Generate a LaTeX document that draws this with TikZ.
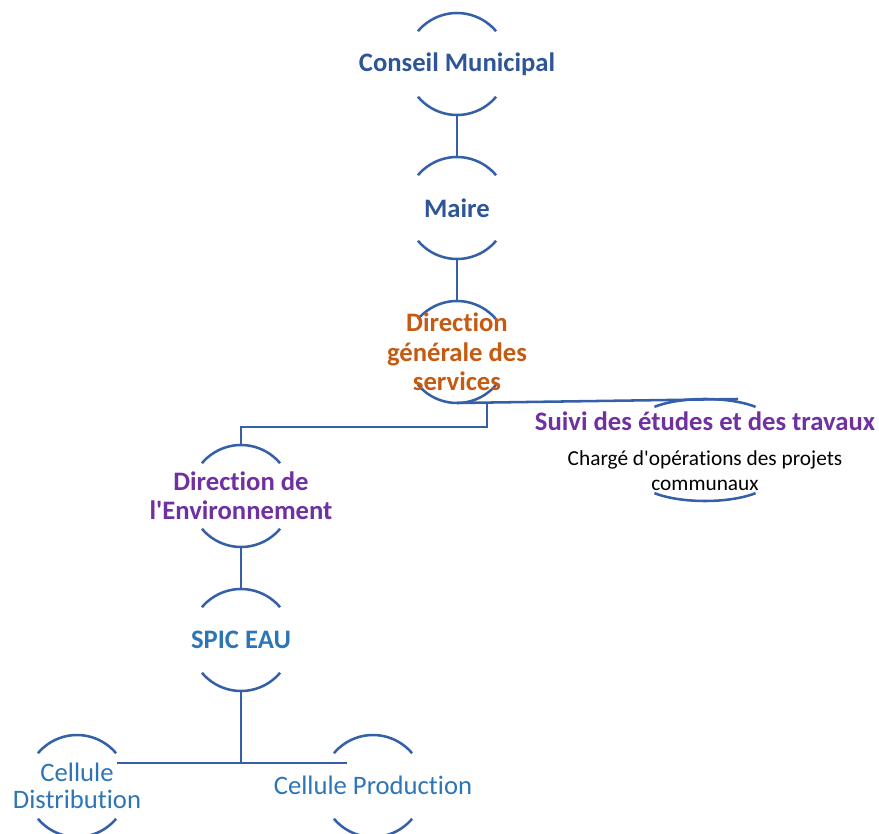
\documentclass[tikz,border=0pt]{standalone}
\usepackage{fontspec}
\setmainfont{Carlito}[Ligatures={NoCommon}]
\usetikzlibrary{calc}

\definecolor{lineblue}{RGB}{53,96,168}
\definecolor{darkblue}{RGB}{47,85,151}
\definecolor{orgorange}{RGB}{197,90,17}
\definecolor{orgpurple}{RGB}{112,48,160}
\definecolor{lightblue}{RGB}{46,117,182}

\tikzset{
  orgline/.style={draw=lineblue, line width=1.9pt},
  bigbold/.style={inner sep=0.75pt, align=center, font=\bfseries\fontsize{20}{22}\selectfont},
  bigplain/.style={inner sep=0.75pt, align=center, font=\fontsize{20}{20}\selectfont},
  smallplain/.style={inner sep=0.75pt, align=center, font=\fontsize{16}{18.75}\selectfont}
}

% name, x, y, x radius, y radius, gap between the arc centres
\newcommand{\orgarcs}[6]{%
  \coordinate (#1) at (#2,#3);
  \coordinate (#1-t) at (#2,#3-#6-#5);
  \coordinate (#1-b) at (#2,#3+#6+#5);
  \draw[orgline] (#2,#3-#6) ++(220:#4 and #5) arc (220:320:#4 and #5);
  \draw[orgline] (#2,#3+#6) ++(40:#4 and #5) arc (40:140:#4 and #5);
}

\begin{document}
\begin{tikzpicture}[x=0.75pt,y=0.75pt,yscale=-1,xscale=1]
\useasboundingbox (0,0) rectangle (879,834);

%Shape: Arcs
\orgarcs{c-conseil}{457}{64}{51}{51}{0}
\orgarcs{c-maire}{457}{208}{51}{51}{0}
\orgarcs{c-dgs}{457}{352}{51}{51}{0}
\orgarcs{c-suivi}{705}{450}{66}{22}{29}
\orgarcs{c-env}{241}{496}{51}{51}{0}
\orgarcs{c-spic}{241}{640}{51}{51}{0}
\orgarcs{c-dist}{77}{786}{51}{51}{0}
\orgarcs{c-prod}{373}{786}{51}{51}{0}

\coordinate (suivi-end) at (738,399);
\coordinate (dgs-fork) at (487,402);
\coordinate (spic-fork) at (241,763);
\coordinate (dist-end) at (117,763);
\coordinate (prod-end) at (347,763);

%Straight Lines
\draw[orgline] (c-conseil-b) -- (c-maire-t);
\draw[orgline] (c-maire-b) -- (c-dgs-t);
\draw[orgline] (c-dgs-b) -- (suivi-end);
\draw[orgline] (dgs-fork) -- ++(0,25) -| (c-env-t);
\draw[orgline] (c-env-b) -- (c-spic-t);
\draw[orgline] (c-spic-b) -- (spic-fork);
\draw[orgline] (dist-end) -- (prod-end);

% Text Node
\node[bigbold, text=darkblue] (conseil) at (c-conseil) {Conseil Municipal};
% Text Node
\node[bigbold, text=darkblue] (maire) at (c-maire) {Maire};
% Text Node
\node[bigbold, text=orgorange] (dgs) at (c-dgs) {Direction\\générale des\\services};
% Text Node
\node[bigbold, text=orgpurple] (suivi) at (705,421) {Suivi des études et des travaux};
% Text Node
\node[smallplain] (charge) at (705,471) {Chargé d\textquotesingle opérations des projets\\communaux};
% Text Node
\node[bigbold, text=orgpurple] (env) at (c-env) {Direction de\\l\textquotesingle Environnement};
% Text Node
\node[bigbold, text=lightblue] (spic) at (c-spic) {SPIC EAU};
% Text Node
\node[bigplain, text=lightblue] (dist) at (c-dist) {Cellule\\Distribution};
% Text Node
\node[bigplain, text=lightblue] (prod) at (373,785) {Cellule Production};
\end{tikzpicture}
\end{document}
